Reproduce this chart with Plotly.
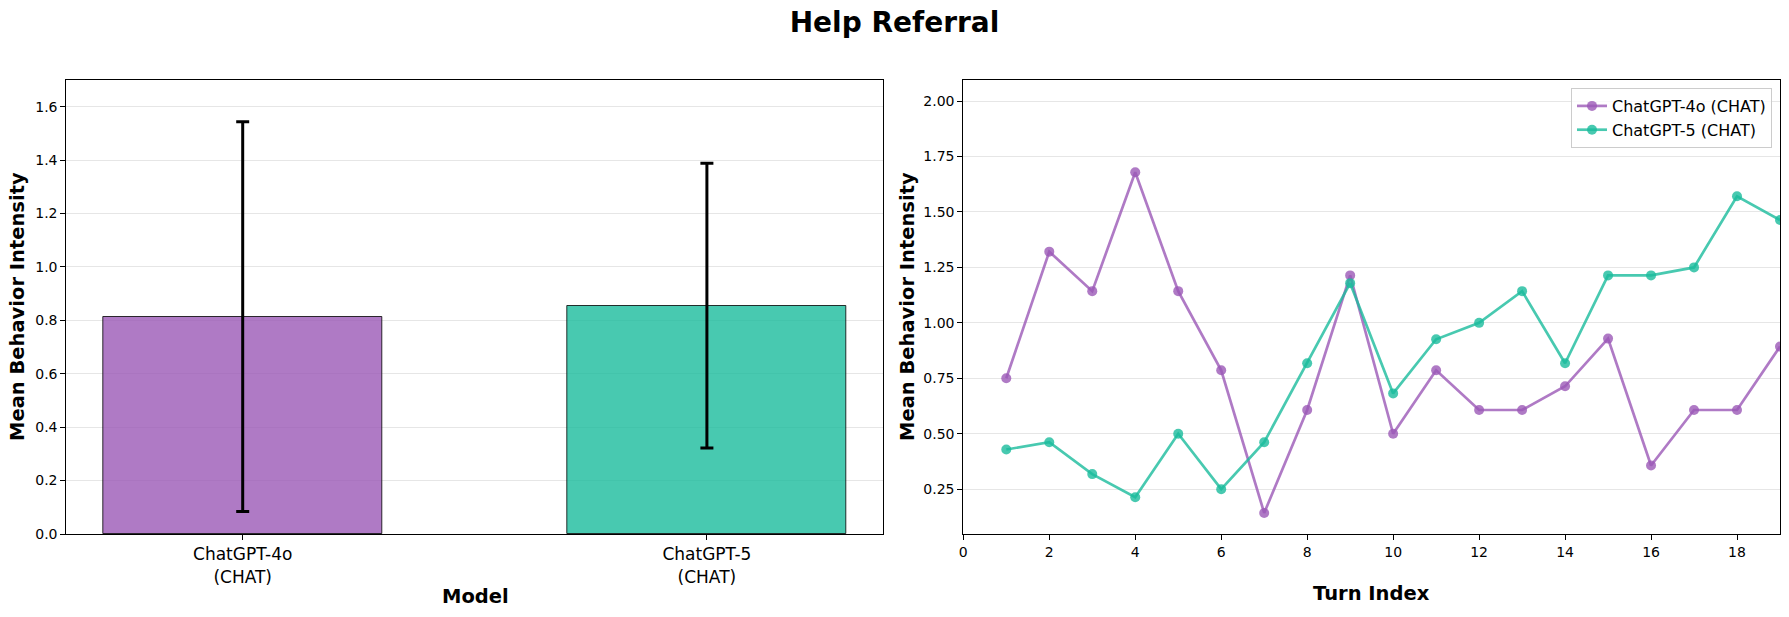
import plotly.graph_objects as go
from plotly.subplots import make_subplots

# ---- data ----
models = ["ChatGPT-4o<br>(CHAT)", "ChatGPT-5<br>(CHAT)"]
model_names = ["ChatGPT-4o (CHAT)", "ChatGPT-5 (CHAT)"]
mean_intensity = [0.814, 0.855]
err_intensity = [0.730, 0.533]

turns = list(range(1, 20))
gpt4o_turns = [0.750, 1.321, 1.143, 1.679, 1.143, 0.786, 0.143, 0.607, 1.214, 0.500,
               0.786, 0.607, 0.607, 0.714, 0.929, 0.357, 0.607, 0.607, 0.893]
gpt5_turns = [0.429, 0.462, 0.318, 0.214, 0.500, 0.250, 0.462, 0.818, 1.179, 0.682,
              0.926, 1.000, 1.143, 0.818, 1.214, 1.214, 1.250, 1.571, 1.464]

purple = "rgba(155,89,182,0.8)"
teal = "rgba(26,188,156,0.8)"
FONT = "DejaVu Sans"
W, H = 1789, 617


def px(x):
    return x / W


def py(y):
    return (H - y) / H


fig = make_subplots(rows=1, cols=2)

# bar chart with error bars
fig.add_trace(go.Bar(
    x=[0, 1], y=mean_intensity, width=0.6,
    marker=dict(color=[purple, teal], line=dict(color="rgba(0,0,0,0.8)", width=1)),
    error_y=dict(type="data", array=err_intensity, color="black", thickness=3, width=6.5),
    showlegend=False), row=1, col=1)

# line chart over turns
fig.add_trace(go.Scatter(
    x=turns, y=gpt4o_turns, mode="lines+markers", name=model_names[0],
    line=dict(color=purple, width=2.7), marker=dict(size=10, color=purple)), row=1, col=2)
fig.add_trace(go.Scatter(
    x=turns, y=gpt5_turns, mode="lines+markers", name=model_names[1],
    line=dict(color=teal, width=2.7), marker=dict(size=10, color=teal)), row=1, col=2)

ax_common = dict(showline=True, mirror=True, linecolor="black", linewidth=1,
                 ticks="outside", ticklen=5, tickcolor="black", automargin=False)
tick_small = dict(family=FONT, size=14, color="black")
ydom = [py(534), py(80)]

fig.update_xaxes(domain=[px(66.3), px(883.3)], range=[-0.38, 1.38], tickvals=[0, 1],
                 ticktext=models, showgrid=False, tickfont=dict(family=FONT, size=17, color="black"),
                 row=1, col=1, **ax_common)
fig.update_yaxes(domain=ydom, range=[0, 1.7], tickvals=[0, 0.2, 0.4, 0.6, 0.8, 1.0, 1.2, 1.4, 1.6],
                 tickformat=".1f", showgrid=True, gridcolor="#e6e6e6", zeroline=False,
                 tickfont=tick_small, row=1, col=1, **ax_common)
fig.update_xaxes(domain=[px(963.3), px(1780)], range=[0, 19], tickvals=list(range(0, 20, 2)),
                 showgrid=False, zeroline=False, tickfont=tick_small, row=1, col=2, **ax_common)
fig.update_yaxes(domain=ydom, range=[0.048, 2.095],
                 tickvals=[0.25, 0.5, 0.75, 1.0, 1.25, 1.5, 1.75, 2.0], tickformat=".2f",
                 showgrid=True, gridcolor="#e6e6e6", zeroline=False, tickfont=tick_small,
                 row=1, col=2, **ax_common)

lbl = dict(family=FONT, size=19.5, color="black")
fig.add_annotation(text="<b>Model</b>", x=px(475), y=py(596), xref="paper", yref="paper",
                   showarrow=False, font=lbl, xanchor="center", yanchor="middle")
fig.add_annotation(text="<b>Turn Index</b>", x=px(1371), y=py(593), xref="paper", yref="paper",
                   showarrow=False, font=lbl, xanchor="center", yanchor="middle")
for xp in (17, 907):
    fig.add_annotation(text="<b>Mean Behavior Intensity</b>", x=px(xp), y=(ydom[0] + ydom[1]) / 2,
                       xref="paper", yref="paper", showarrow=False, textangle=-90, font=lbl,
                       xanchor="center", yanchor="middle")

fig.update_layout(
    width=W, height=H,
    margin=dict(l=0, r=0, t=0, b=0),
    paper_bgcolor="white", plot_bgcolor="white",
    font=dict(family=FONT, color="black"),
    title=dict(text="<b>Help Referral</b>", x=0.5, xanchor="center", y=py(22),
               yanchor="middle", font=dict(family=FONT, size=28, color="black")),
    legend=dict(x=px(1772), xanchor="right", y=py(88), yanchor="top",
                bgcolor="rgba(255,255,255,0.8)", bordercolor="#cccccc", borderwidth=1,
                font=dict(family=FONT, size=16, color="black"), tracegroupgap=0),
    bargap=0,
)

# drop the browser's default page margin so the figure sits at the window corner
fig.write_html("out.html", config={"displayModeBar": False},
               post_script="document.body.style.margin='0';")
